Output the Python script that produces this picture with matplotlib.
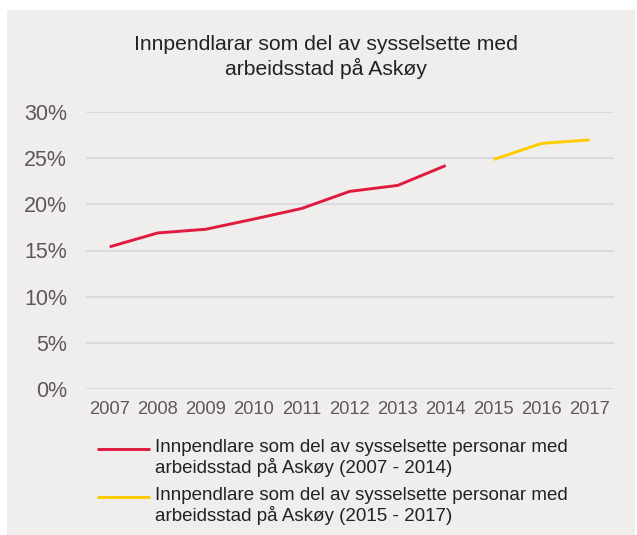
import matplotlib
matplotlib.use("Agg")
import matplotlib.pyplot as plt
from matplotlib.patches import Rectangle
from matplotlib.lines import Line2D
import numpy as np

years = ["2007", "2008", "2009", "2010", "2011", "2012", "2013", "2014", "2015", "2016", "2017"]
series_a = [15.4, 16.9, 17.3, 18.4, 19.55, 21.4, 22.05, 24.2, None, None, None]
series_b = [None, None, None, None, None, None, None, None, 24.86, 26.6, 26.98]
label_a = "Innpendlare som del av sysselsette personar med\narbeidsstad på Askøy (2007 - 2014)"
label_b = "Innpendlare som del av sysselsette personar med\narbeidsstad på Askøy (2015 - 2017)"
title = "Innpendlarar som del av sysselsette med\narbeidsstad på Askøy"
yticks = [0, 5, 10, 15, 20, 25, 30]

plt.rcParams['font.family'] = ['Liberation Sans', 'DejaVu Sans']
BG = "#EFEEEC"
RED = "#E0193F"
YEL = "#FFCC00"
TICK = "#5E5660"
TXT = "#222222"
W, H = 637, 535
fig = plt.figure(figsize=(W/100, H/100), dpi=100)
fig.patch.set_facecolor("white")
bg = Rectangle((7/W, 0), (635-7)/W, (535-10)/H, transform=fig.transFigure,
               facecolor=BG, edgecolor="none", zorder=-10)
fig.add_artist(bg)

ax = fig.add_axes([85.7/W, 1-389/H, (613.7-85.7)/W, (389-112)/H])
ax.set_zorder(1)
ax.set_facecolor("none")
x = np.arange(len(years))
ya = np.array([np.nan if v is None else v for v in series_a], dtype=float)
yb = np.array([np.nan if v is None else v for v in series_b], dtype=float)
ax.plot(x, ya, color=RED, lw=2.1, solid_capstyle="butt")
ax.plot(x, yb, color=YEL, lw=2.1, solid_capstyle="butt")
ax.set_xlim(-0.5, len(years)-0.5)
ax.set_ylim(0, 30)
ax.set_yticks(yticks)
ax.set_yticklabels([f"{v}%" for v in yticks])
ax.set_xticks(x)
ax.set_xticklabels(years)
for s in ax.spines.values():
    s.set_visible(False)
ax.grid(axis="y", color="#DCDADD", lw=1.5)
ax.set_axisbelow(True)
ax.tick_params(length=0, colors=TICK)
ax.tick_params(axis="y", labelsize=15.5, pad=13.5)
ax.tick_params(axis="x", labelsize=13.2, pad=9)

fig.text(325.5/W, 1-57/H, title, ha="center", va="center", fontsize=15.2,
         color=TXT, linespacing=1.2)

# legend drawn manually so that the handle aligns with the first text line
for (yline, label, col) in [(449, label_a, RED), (496.5, label_b, YEL)]:
    fig.add_artist(Line2D([96.7/W, 150/W], [1-yline/H, 1-yline/H], transform=fig.transFigure,
                          color=col, lw=2.1, solid_capstyle="butt"))
    fig.text(155/W, 1-(yline-9.5)/H, label, ha="left", va="top", fontsize=13.5,
             color=TXT, linespacing=1.12)

fig.savefig("out.png", dpi=100, facecolor="white")
